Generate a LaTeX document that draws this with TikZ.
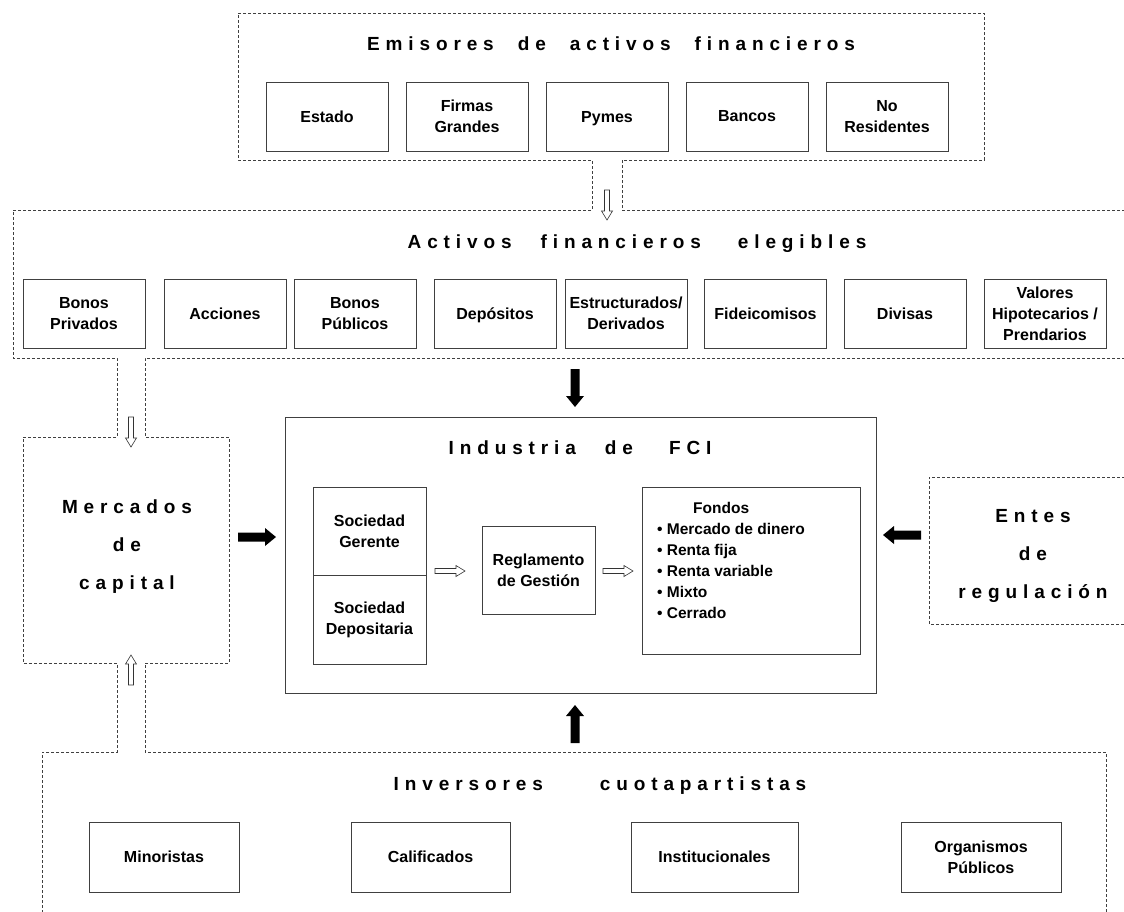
\documentclass[tikz,border=0pt]{standalone}
\usepackage{fontspec}
\setmainfont{Liberation Sans}
\newfontfamily\espaciada[LetterSpace=31]{Liberation Sans}
\usetikzlibrary{positioning}

\newcommand{\esp}[1]{\hspace{#1pt}}

\begin{document}
\begin{tikzpicture}[x=1pt,y=-1pt,
	caja/.style={draw=black!75, line width=0.9pt, minimum width=122pt, minimum height=69pt,
		inner sep=1pt, align=center, font=\bfseries\fontsize{16}{21}\selectfont},
	plana/.style={text height=11.5pt, text depth=0pt},
	borde/.style={draw=black!75, dash pattern=on 3pt off 2pt, line width=0.8pt},
	titulo/.style={font=\espaciada\bfseries\fontsize{19}{38}\selectfont, align=center, inner sep=0pt},
	hueca/.style={draw=black!80, fill=white, line width=0.6pt},
	negra/.style={fill=black},
	pics/fhueca/.style={code={\path[hueca] (0,-2.5) -- (21,-2.5) -- (21,-5.5) -- (30,0)
		-- (21,5.5) -- (21,2.5) -- (0,2.5) -- cycle;}},
	pics/fnegra/.style={code={\path[negra] (0,-4.5) -- (27,-4.5) -- (27,-9) -- (38,0)
		-- (27,9) -- (27,4.5) -- (0,4.5) -- cycle;}}]
	\useasboundingbox (0,0) rectangle (1124,911);

	% bordes punteados
	\draw[borde] (1130,210) -- (622,210) -- (622,160) -- (984,160) -- (984,13) -- (238,13)
		-- (238,160) -- (592,160) -- (592,210) -- (13,210) -- (13,358) -- (117,358)
		-- (117,437) -- (23,437) -- (23,663) -- (117,663) -- (117,752) -- (42,752) -- (42,915);
	\draw[borde] (1130,358) -- (145,358) -- (145,437) -- (229,437) -- (229,663)
		-- (145,663) -- (145,752) -- (1106,752) -- (1106,915);
	\draw[borde] (1130,477) -- (929,477) -- (929,624) -- (1130,624);

	% emisores
	\node[titulo, anchor=base] (tEmisores) at (611,50) {Emisores\esp{24}de\esp{24}activos\esp{24}financieros};
	\node[caja] (estado) at (327,116.5) {Estado};
	\node[caja] (firmas) at (467,116.5) {Firmas\\Grandes};
	\node[caja, plana] (pymes) at (607,116.5) {Pymes};
	\node[caja] (bancos) at (747,116.5) {Bancos};
	\node[caja] (noRes) at (887,116.5) {No\\Residentes};

	% activos
	\node[titulo, anchor=base] (tActivos) at (637,248) {Activos\esp{29}financieros\esp{37}elegibles};
	\node[caja] (bPriv) at (84,313.5) {Bonos\\Privados};
	\node[caja] (acciones) at (225,313.5) {Acciones};
	\node[caja] (bPub) at (355,313.5) {Bonos\\Públicos};
	\node[caja, plana] (depositos) at (495,313.5) {Depósitos};
	\node[caja] (estruct) at (626,313.5) {Estructurados/\\Derivados};
	\node[caja] (fideic) at (765.5,313.5) {Fideicomisos};
	\node[caja] (divisas) at (905,313.5) {Divisas};
	\node[caja] (valores) at (1045,313.5) {Valores\\Hipotecarios /\\Prendarios};

	% mercados y entes
	\node[titulo] (tMercados) at (127,547) {Mercados\\de\\capital};
	\node[titulo] (tEntes) at (1033,556) {Entes\\de\\regulación};

	% industria
	\node[caja, minimum width=591pt, minimum height=276pt] (industria) at (580.5,555) {};
	\node[titulo, anchor=base] (tIndustria) at (580,454) {Industria\esp{29}de\esp{36}FCI};
	\node[caja, minimum width=113pt, minimum height=88pt] (socGer) at (369.5,531) {Sociedad\\Gerente};
	\node[caja, minimum width=113pt, minimum height=89pt] (socDep) at (369.5,619.5) {Sociedad\\Depositaria};
	\node[caja, minimum width=113pt, minimum height=88pt] (reglamento) at (538.5,570) {Reglamento\\de Gestión};
	\node[caja, minimum width=218pt, minimum height=167pt] (fondos) at (751,570.5) {};
	\node[anchor=north west, inner sep=0pt, align=left, font=\bfseries\fontsize{15.5}{21}\selectfont]
		(fondosTxt) at (657,502) {\hspace*{36pt}Fondos\\\textbullet\ Mercado de dinero\\\textbullet\ Renta fija\\
		\textbullet\ Renta variable\\\textbullet\ Mixto\\\textbullet\ Cerrado};

	% inversores
	\node[titulo, anchor=base] (tInversores) at (600,790) {Inversores\esp{57}cuotapartistas};
	\node[caja, minimum width=150pt, minimum height=70pt] (minoristas) at (164,857) {Minoristas};
	\node[caja, minimum width=159pt, minimum height=70pt] (calif) at (430.5,857) {Calificados};
	\node[caja, minimum width=167pt, minimum height=70pt] (instit) at (714.5,857) {Institucionales};
	\node[caja, minimum width=160pt, minimum height=70pt] (organismos) at (981,857) {Organismos\\Públicos};

	% flechas
	\pic[rotate=-90] at (607,190) {fhueca};
	\pic[rotate=-90] at (131,417) {fhueca};
	\pic[rotate=90] at (131,685) {fhueca};
	\pic at (435,571) {fhueca};
	\pic at (603,571) {fhueca};
	\pic[rotate=-90] at (575,369) {fnegra};
	\pic[rotate=90] at (575,743) {fnegra};
	\pic at (238,537) {fnegra};
	\pic[rotate=180] at (921,535) {fnegra};

\end{tikzpicture}
\end{document}
